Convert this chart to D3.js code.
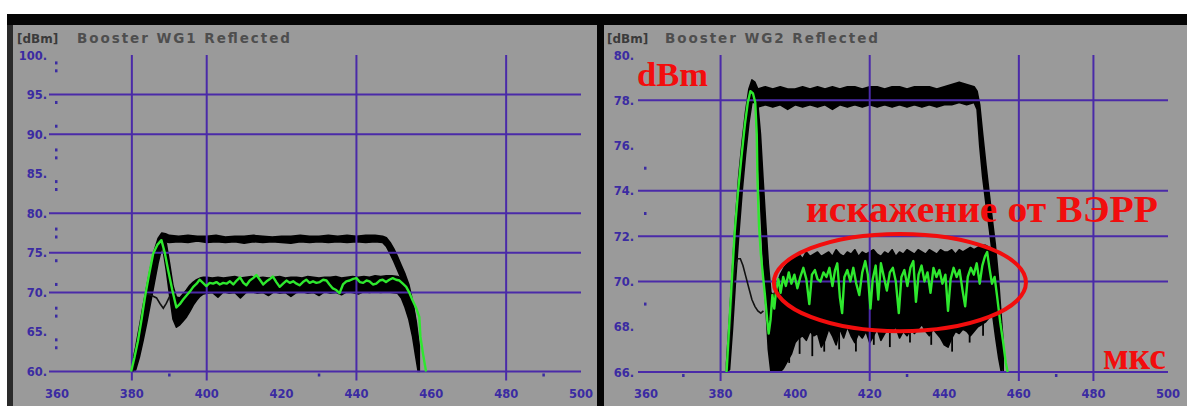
<!DOCTYPE html>
<html>
<head>
<meta charset="utf-8">
<script src="https://cdn.jsdelivr.net/npm/d3@7"></script>
<style>
  body { margin: 0; background: #fff; }
  svg { display: block; }
</style>
</head>
<body>
<svg id="chart" width="1187" height="406"></svg>
<script>
// Time axis (µs), shared by both scope panels
const timeTicks = [360, 380, 400, 420, 440, 460, 480, 500];

// ---- WG1 panel ----
const wg1Title = "Booster WG1 Reflected";
const wg1YTicks = [100, 95, 90, 85, 80, 75, 70, 65, 60];
const wg1HGrid = [95, 90, 80, 75, 70, 60];
const wg1VGrid = [380, 400, 440, 480];
const wg1YMinor = [99, 98, 94, 91, 88, 87, 84, 83, 78, 77, 74, 71, 68, 67, 64, 63];
const wg1XMinor = [390, 430, 490];
// upper trace envelope: [time, low dBm, high dBm]
const wg1Upper = [
  [380,60,60.8],[381,60.2,63],[382,61.8,65.6],[383,63.9,68.3],[384,66.2,70.8],[385,68.7,73.2],
  [386,71.2,75.3],[387,73.7,76.8],[388,75.7,77.5],[389,76.4,77.4],[390,76.3,77.2],[392.5,76.4,77.1],
  [395,76.3,77.2],[397.5,76.5,77.1],[400,76.3,77.1],[402.5,76.4,77.2],[405,76.3,77.0],[407.5,76.4,77.1],
  [410,76.2,77.1],[412.5,76.4,77.2],[415,76.3,77.1],[417.5,76.4,77.0],[420,76.3,77.1],[422.5,76.2,77.1],
  [425,76.4,77.2],[427.5,76.3,77.1],[430,76.4,77.1],[432.5,76.3,77.2],[435,76.4,77.1],[437.5,76.3,77.2],
  [440,76.4,77.1],[442.5,76.3,77.2],[445,76.4,77.2],[447,76.3,77.1],[448,75.8,76.9],[449,74.9,76.3],
  [450,73.9,75.5],[451,72.8,74.5],[452,71.7,73.4],[453,70.6,72.3],[454,69.1,71],[455,66.6,68.9],
  [456,63.5,66.2],[456.8,60,63.2]
];
// lower trace envelope: [time, low dBm, high dBm]
const wg1Lower = [
  [388.3,75.5,77],[389.2,72.8,76.2],[390.1,69.6,73.6],[391,66.6,70.8],[391.9,65.6,69.4],[392.8,65.9,69.3],
  [393.7,66.4,69.8],[394.6,66.9,70.3],[395.5,67.6,70.9],[396.4,68.4,71.3],[397.3,69,71.6],[398.2,69.5,71.8],
  [399.1,69.8,71.9],[400,69.9,71.9],[401.5,70,71.8],[403,69.4,71.9],[404.5,70.1,71.8],[406,69.9,71.9],
  [407.5,70,72],[409,69.3,71.8],[410.5,70,71.9],[412,70.1,72],[413.5,69.9,71.8],[415,70,71.9],
  [416.5,69.6,71.8],[418,70.1,71.9],[419.5,69.9,72],[421,70,71.8],[422.5,69.5,71.9],[424,70,71.9],
  [425.5,70.1,71.8],[427,69.9,72],[428.5,70,71.9],[430,69.6,71.8],[431.5,70.1,71.9],[433,69.9,71.9],
  [434.5,70,72],[436,69.7,71.8],[437.5,70.1,71.9],[439,70,72],[440.5,69.8,71.9],[442,70.1,72],
  [443.5,70,71.9],[445,70.1,72.1],[446.5,70,72],[448,70.1,72.1],[449.5,70,72.1],[451,69.9,72],
  [452,69.3,71.8],[453,68.1,71.3],[454,66.6,70.4],[455,64.4,68.8],[455.8,62,66.4],[456.5,60,63.6]
];
const wg1Thin = [
  [380.2,60],[381.2,62.8],[382.2,65.6],[383.1,68.2],[383.9,69.8],[384.8,69.7],[385.7,69.5],
  [386.6,69.3],[387.5,68.6],[388.4,68],[389.2,68.6],[390.1,69.5]
];
const wg1Green = [
  [379.8,60],[380.7,61.8],[381.6,63.8],[382.6,66.6],[383.5,69.4],[384.5,72],[385.7,74.9],[386.8,76],
  [387.9,76.6],[388.8,75],[389.7,72.8],[390.8,70.3],[391.9,68.1],[392.8,68.5],[393.7,69.1],[394.6,69.6],
  [395.5,70.1],[396.4,70.7],[397.3,71.1],[398.1,71.6],[399,71.2],[399.9,70.8],[400.8,71.2],[401.7,71.1],
  [402.6,71.3],[403.5,71],[404.4,71.2],[405.3,71.1],[406.2,71.4],[407.1,71],[408,71.5],[408.9,71.9],
  [409.8,71.2],[410.6,70.9],[411.5,71.5],[412.4,71.8],[413.3,72.2],[414.2,71.6],[415.1,71],[416,71.4],
  [416.9,71.7],[417.7,72],[418.6,71.3],[419.5,70.7],[420.4,71.1],[421.3,71.5],[422.2,71.2],[423.1,71.4],
  [424,71.1],[424.8,70.9],[425.7,71.3],[426.6,71.6],[427.5,71.2],[428.4,71.4],[429.3,71.2],[430.2,71.3],
  [431.1,71.6],[432,71.5],[432.8,71],[433.7,70.5],[434.6,70.3],[435.5,69.9],[436.4,71],[437.3,71.4],
  [438.2,71.5],[439.1,71.7],[440,71.8],[440.9,71.3],[441.8,71.2],[442.7,71.5],[443.5,71.4],[444.4,71],
  [445.3,71.1],[446.2,71.5],[447,71.6],[447.9,71.3],[448.8,71.6],[449.7,71.8],[450.6,71.6],[451.5,71.5],
  [452.4,71.1],[453.3,70.7],[454.2,69.9],[455,69],[455.9,68.1],[456.8,66.9],[457.1,64.4],[457.8,62.2],
  [458.6,60]
];

// ---- WG2 panel ----
const wg2Title = "Booster WG2 Reflected";
const wg2YTicks = [80, 78, 76, 74, 72, 70, 68, 66];
const wg2HGrid = [78, 74, 72, 70, 66];
const wg2VGrid = [380, 420, 460, 480];
const wg2YMinor = [75, 73, 69];
const wg2XMinor = [370, 430, 470];
const wg2Upper = [
  [381.6,66,66.4],[382.4,66.1,68.4],[383.2,67.9,70.6],[384,70,72.8],[384.9,72.1,74.7],[385.8,74,76.2],
  [386.7,75.6,77.5],[387.6,77,78.5],[388.4,77.9,78.9],[389.2,77.9,78.8],[390,77.7,78.5],[392,77.8,78.6],
  [394,77.7,78.5],[396,77.8,78.6],[398,77.6,78.5],[400,77.8,78.5],[402,77.7,78.6],[404,77.8,78.5],
  [406,77.7,78.6],[408,77.8,78.5],[410,77.6,78.6],[412,77.8,78.5],[414,77.7,78.6],[416,77.8,78.6],
  [418,77.7,78.5],[420,77.8,78.6],[422,77.7,78.6],[424,77.8,78.5],[426,77.7,78.6],[428,77.8,78.6],
  [430,77.7,78.5],[432,77.8,78.6],[434,77.7,78.6],[436,77.8,78.6],[438,77.7,78.5],[440,77.8,78.6],
  [442,77.8,78.7],[444,77.9,78.8],[446,77.8,78.7],[448,77.9,78.6],[448.8,77.6,78.4],[449.5,76,77.8],
  [450.3,74.6,76.5],[451.2,73.4,75.1],[452.1,72.3,73.8],[452.9,71.2,72.7],[453.7,70.1,71.6],
  [454.5,68.5,70.2],[455.2,66.8,68.6],[455.8,66,67.3]
];
const wg2Lower = [
  [389.5,77.5,78.5],[390,75.8,77.8],[390.7,73.5,76.5],[391.4,71.2,74.5],[392.1,69,72.6],[392.8,67,70.8],
  [393.5,66,69.5],[394.3,66,69.4],[395,66,69.8],[396,66,70.3],[397,66.2,70.6],[398,66.5,70.8],
  [399,66.8,71],[400,67.3,71.1],[401,67.5,71.2],[402,67.6,71],[403,67.4,71.3],[404,67.8,71.1],
  [405,67.6,71.2],[406,67.7,71.3],[407,67.1,71.1],[408,67.4,71.2],[409,67.9,71.3],[410,67.6,71.1],
  [411,67.2,71.4],[412,67.9,71.2],[413,67.5,71.1],[414,68,71.3],[415,67.6,71.2],[416,67.3,71.4],
  [417,67.7,71.1],[418,67.5,71.3],[419,67.8,71.2],[420,67.3,71.3],[421,67.6,71.4],[422,67.9,71.2],
  [423,67.4,71.1],[424,67.7,71.3],[425,67.9,71.2],[426,67.8,71.4],[427,68,71.1],[428,67.5,71.3],
  [429,67.8,71.2],[430,67.6,71.4],[431,67.9,71.3],[432,67.7,71.2],[433,67.9,71.4],[434,68.1,71.3],
  [435,67.8,71.2],[436,67.6,71.4],[437,67.9,71.3],[438,67.7,71.2],[439,67.5,71.4],[440,67.2,71.3],
  [441,67.1,71.3],[442,67.5,71.4],[443,67.8,71.2],[444,67.7,71.4],[445,67.9,71.3],[446,67.8,71.4],
  [447,67.6,71.5],[448,67.8,71.4],[449,68,71.5],[450,68.1,71.6],[451,68.2,71.6],[452,68.4,71.5],
  [453,68.5,71.2],[453.8,67.5,70.2],[454.6,66.6,68.8],[455.3,66,67.4]
];
// isolated noise spikes below the lower envelope: [time, bottom dBm]
const wg2Spikes = [
  [396.6,66.1],[398.4,66.4],[401.2,66.8],[404.6,66.7],[407.8,66.9],[411.8,67.0],[416.3,66.9],
  [421.1,67.2],[425.4,67.1],[430.8,67.3],[436.5,67.2],[442.1,66.9],[446.8,67.3],[450.4,67.6]
];
const wg2Thin = [
  [381.8,66],[382.6,67.8],[383.3,69.6],[383.8,70.6],[384.5,71],[385.3,71],[386,70.7],[386.8,70.2],
  [387.6,69.7],[388.4,69.2],[389.2,68.9],[390,68.7],[390.8,68.6],[391.5,68.7]
];
const wg2Green = [
  [381.6,66],[382.3,68],[383,70],[383.8,72.2],[384.7,74],[385.6,75.5],[386.5,76.9],[387.3,77.9],
  [388,78.4],[388.7,78.3],[389.3,77.9],[389.7,76.5],[389.9,74.5],[390.3,72.5],[390.8,71.2],[391.4,70.2],
  [391.9,69.4],[392.5,68.3],[392.9,67.7],[393.4,68.3],[393.9,69.4],[394.4,68.8],[394.9,69.6],[395.5,70.1],
  [396.1,69.5],[396.8,70.2],[397.5,69.8],[398.3,70.4],[399,69.9],[399.8,70.3],[400.6,69.7],[401.4,70.2],
  [402.2,70.6],[403,70.1],[403.8,69],[404.5,70.3],[405.3,70.5],[406,70.1],[406.8,70],[407.6,70.4],
  [408.4,70.2],[409.2,70.6],[410,69.8],[410.7,70.5],[411.3,70.8],[412,69.3],[412.6,68.6],[413.2,70.2],
  [414,70.5],[414.8,70],[415.6,70.6],[416.4,69.9],[417.2,69.4],[418,70.4],[418.8,70.9],[419.5,70.3],
  [420.2,68.8],[420.8,70.1],[421.6,70.7],[422.3,69.2],[423,70.8],[423.8,70.2],[424.6,69.6],[425.4,70.4],
  [426.2,70.6],[427,70],[427.8,68.6],[428.5,70.2],[429.3,70.5],[430.1,69.8],[430.9,70.6],[431.7,70.9],
  [432.4,69.1],[433.1,70.3],[433.9,70.7],[434.7,70],[435.5,70.4],[436.3,69.5],[437.1,70.6],[437.9,70.2],
  [438.7,70.5],[439.5,69.9],[440.3,70.3],[441,68.7],[441.7,70.1],[442.5,70.6],[443.3,70.2],[444.1,70.5],
  [444.9,69.6],[445.6,68.9],[446.3,70.2],[447.1,70.6],[447.9,70.3],[448.7,70.8],[449.5,69.9],[450.2,70.7],
  [450.9,71.1],[451.5,71.3],[452.1,70.6],[452.8,69.9],[453.5,70.2],[454.2,69.3],[455,68.2],[455.8,67.3],
  [456.5,66.4],[457,66]
];

// Annotation region on WG2: [time from, time to], [dBm low, dBm high]
const wg2MarkTime = [394.3, 461.9];
const wg2MarkLevel = [67.8, 72.1];

// ---------------- drawing ----------------
const svg = d3.select("#chart");
const W = 1187, H = 406;
const GRAY = "#9a9a9a", GRID = "#4a2aa8", LABEL = "#3b2ba2", GREEN = "#2ee82e", RED = "#f20d0d";

svg.append("rect").attr("width", W).attr("height", H).attr("fill", "#fff");

const panels = [
  { x0: 13, x1: 597, xr: [57, 581], yr: [371.5, 55], yd: [60, 100], labelX: 47, titleX: 17, nameX: 77,
    title: wg1Title, yTicks: wg1YTicks, hGrid: wg1HGrid, vGrid: wg1VGrid, yMinor: wg1YMinor, xMinor: wg1XMinor,
    bands: [wg1Upper, wg1Lower], spikes: [], thin: wg1Thin, green: wg1Green },
  { x0: 604, x1: 1187, xr: [646, 1168], yr: [372, 55], yd: [66, 80], labelX: 634, titleX: 607, nameX: 665,
    title: wg2Title, yTicks: wg2YTicks, hGrid: wg2HGrid, vGrid: wg2VGrid, yMinor: wg2YMinor, xMinor: wg2XMinor,
    bands: [wg2Upper, wg2Lower], spikes: wg2Spikes, thin: wg2Thin, green: wg2Green }
];

// frame: top bar, left border, divider
svg.append("rect").attr("x", 7).attr("y", 14).attr("width", W - 7).attr("height", 11).attr("fill", "#050505");
svg.append("rect").attr("x", 7).attr("y", 25).attr("width", 6).attr("height", H - 25).attr("fill", "#2a2a2a");
svg.append("rect").attr("x", 597).attr("y", 14).attr("width", 7).attr("height", H - 14).attr("fill", "#050505");

const scales = panels.map(p => {
  const x = d3.scaleLinear().domain([360, 500]).range(p.xr);
  const y = d3.scaleLinear().domain(p.yd).range(p.yr);
  const g = svg.append("g");

  g.append("rect").attr("x", p.x0).attr("y", 25).attr("width", p.x1 - p.x0).attr("height", H - 25).attr("fill", GRAY);

  // header
  g.append("text").attr("x", p.titleX).attr("y", 43)
    .attr("font-family", "DejaVu Sans").attr("font-weight", "bold").attr("font-size", 12)
    .attr("fill", "#3a3a3a").text("[dBm]");
  g.append("text").attr("x", p.nameX).attr("y", 43)
    .attr("font-family", "DejaVu Sans").attr("font-weight", "bold").attr("font-size", 13.5)
    .attr("fill", "#4e4e4e").attr("textLength", 213).attr("lengthAdjust", "spacing").text(p.title);

  const gridTop = y(p.yd[1]), gridBottom = y(p.yd[0]) + 9;
  const left = x(360) - 8, right = x(500);

  // data layers underneath the grid
  const area = d3.area().x(d => x(d[0])).y0(d => y(d[1])).y1(d => y(d[2]));
  p.bands.forEach(b => {
    g.append("path").attr("d", area(b)).attr("fill", "#000").attr("stroke", "#000")
      .attr("stroke-width", 1.6).attr("stroke-linejoin", "round");
  });
  g.selectAll(null).data(p.spikes).join("line")
    .attr("x1", d => x(d[0])).attr("x2", d => x(d[0]))
    .attr("y1", y(68.6)).attr("y2", d => y(d[1]))
    .attr("stroke", "#000").attr("stroke-width", 1.8);

  // grid
  g.selectAll(null).data(p.hGrid).join("line")
    .attr("x1", left).attr("x2", right).attr("y1", d => y(d)).attr("y2", d => y(d))
    .attr("stroke", GRID).attr("stroke-width", 2);
  g.selectAll(null).data(p.vGrid).join("line")
    .attr("x1", d => x(d)).attr("x2", d => x(d)).attr("y1", gridTop).attr("y2", gridBottom)
    .attr("stroke", GRID).attr("stroke-width", 2);

  // minor dots
  g.selectAll(null).data(p.yMinor).join("rect")
    .attr("x", x(360) - 2).attr("y", d => y(d) - 1.5).attr("width", 2.5).attr("height", 3).attr("fill", LABEL);
  g.selectAll(null).data(p.xMinor).join("rect")
    .attr("x", d => x(d) - 1.2).attr("y", y(p.yd[0]) + 2).attr("width", 2.5).attr("height", 3).attr("fill", LABEL);

  // y labels
  g.selectAll(null).data(p.yTicks).join("text")
    .attr("x", p.labelX).attr("y", d => y(d) + 4.5).attr("text-anchor", "end")
    .attr("font-family", "DejaVu Sans").attr("font-weight", "bold").attr("font-size", 11.5)
    .attr("fill", LABEL).text(d => d + ".");

  // x labels
  g.selectAll(null).data(timeTicks).join("text")
    .attr("x", d => x(d)).attr("y", 398).attr("text-anchor", "middle")
    .attr("font-family", "DejaVu Sans").attr("font-weight", "bold").attr("font-size", 11.5)
    .attr("fill", LABEL).text(d => d);

  // traces
  const line = d3.line().x(d => x(d[0])).y(d => y(d[1]));
  g.append("path").attr("d", line(p.thin)).attr("fill", "none").attr("stroke", "#111").attr("stroke-width", 1.6);
  g.append("path").attr("d", line(p.green)).attr("fill", "none").attr("stroke", GREEN)
    .attr("stroke-width", 2.4).attr("stroke-linejoin", "round");

  return { x, y, g };
});

// annotations on the WG2 panel
const { x: x2, y: y2, g: g2 } = scales[1];
g2.append("ellipse")
  .attr("cx", (x2(wg2MarkTime[0]) + x2(wg2MarkTime[1])) / 2)
  .attr("cy", (y2(wg2MarkLevel[0]) + y2(wg2MarkLevel[1])) / 2)
  .attr("rx", (x2(wg2MarkTime[1]) - x2(wg2MarkTime[0])) / 2)
  .attr("ry", (y2(wg2MarkLevel[0]) - y2(wg2MarkLevel[1])) / 2)
  .attr("fill", "none").attr("stroke", RED).attr("stroke-width", 4);

const redText = (tx, ty, s, size, len) => {
  const t = g2.append("text").attr("x", tx).attr("y", ty)
    .attr("font-family", "Liberation Serif").attr("font-weight", "bold").attr("font-size", size)
    .attr("fill", RED).text(s);
  if (len) t.attr("textLength", len).attr("lengthAdjust", "spacingAndGlyphs");
};
redText(637, 86, "dBm", 34, 71);
redText(806, 222, "искажение от ВЭРР", 38, 352);
redText(1103, 369, "мкс", 37, 63);
</script>
</body>
</html>
